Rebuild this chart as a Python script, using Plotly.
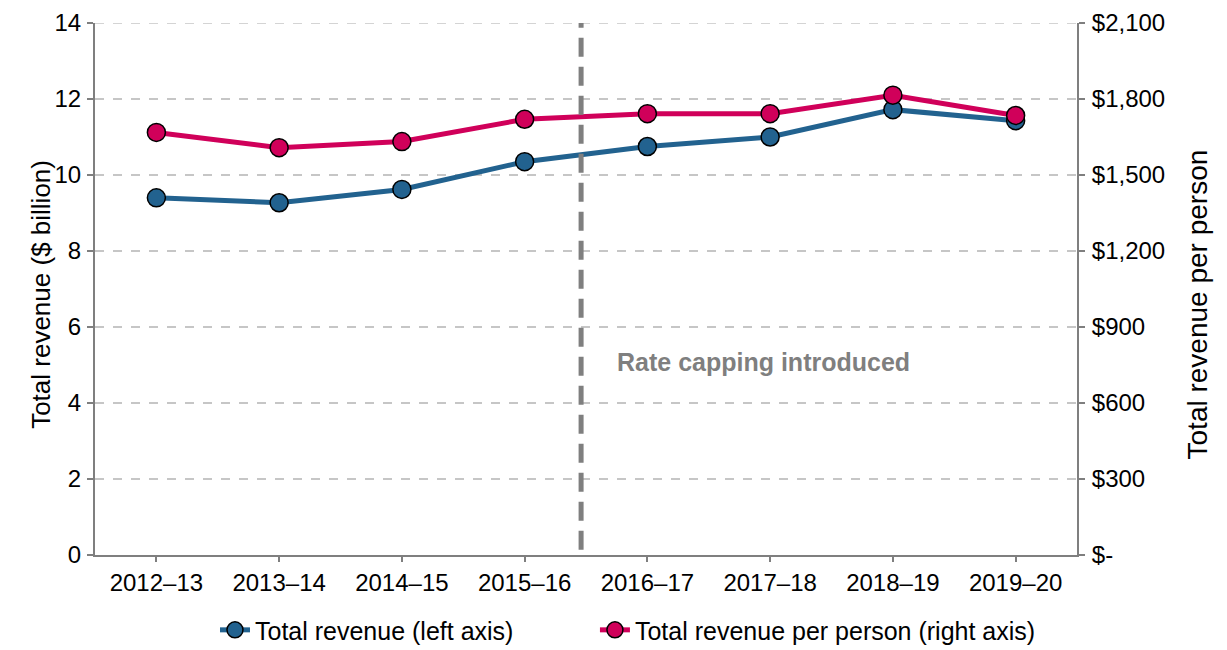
import plotly.graph_objects as go

years = ["2012–13", "2013–14", "2014–15", "2015–16", "2016–17", "2017–18", "2018–19", "2019–20"]
total_revenue = [9.40, 9.27, 9.62, 10.35, 10.75, 11.00, 11.72, 11.43]
revenue_per_person = [1668, 1608, 1632, 1720, 1742, 1742, 1815, 1735]

left_ticks = [0, 2, 4, 6, 8, 10, 12, 14]
right_ticks = [0, 300, 600, 900, 1200, 1500, 1800, 2100]
right_labels = ["$-", "$300", "$600", "$900", "$1,200", "$1,500", "$1,800", "$2,100"]

blue = "#22628f"
pink = "#d0005a"
axis_grey = "#7f7f7f"
grid_grey = "#c6c6c6"

fig = go.Figure()

# serie en eje izquierdo
fig.add_trace(go.Scatter(
    x=years, y=total_revenue,
    name="Total revenue (left axis)",
    mode="lines+markers",
    line=dict(color=blue, width=5),
    marker=dict(size=18, color=blue, line=dict(color="black", width=1.5)),
    legend="legend",
))

# serie en eje derecho
fig.add_trace(go.Scatter(
    x=years, y=revenue_per_person,
    name="Total revenue per person (right axis)",
    mode="lines+markers",
    yaxis="y2",
    line=dict(color=pink, width=5),
    marker=dict(size=18, color=pink, line=dict(color="black", width=1.5)),
    legend="legend2",
))

# linea de grilla superior (14)
fig.add_shape(
    type="line", xref="paper", yref="y",
    x0=0, x1=1, y0=14, y1=14,
    line=dict(color=grid_grey, width=1.5, dash="dash"),
    layer="below",
)

# linea de rate capping
fig.add_shape(
    type="line", xref="x", yref="paper",
    x0=3.46, x1=3.46, y0=0.01, y1=1.0,
    line=dict(color=axis_grey, width=5, dash="19px,10px"),
)
fig.add_annotation(
    x=4.95, y=5.08, xref="x", yref="y",
    text="<b>Rate capping introduced</b>",
    showarrow=False,
    font=dict(size=25, color=axis_grey),
)

# titulos de ejes
fig.add_annotation(
    x=0, y=0.489, xref="paper", yref="paper", xshift=-71,
    text="Total revenue ($ billion)", textangle=-90, showarrow=False,
    font=dict(size=26),
)
fig.add_annotation(
    x=1, y=0.470, xref="paper", yref="paper", xshift=138,
    text="Total revenue per person", textangle=-90, showarrow=False,
    font=dict(size=28),
)

legend_style = dict(orientation="h", xref="container", yref="container",
                    xanchor="left", y=0.031, yanchor="middle",
                    font=dict(size=25), bgcolor="rgba(0,0,0,0)")

fig.update_layout(
    width=1219, height=642,
    margin=dict(l=87, r=150, t=15, b=95),
    paper_bgcolor="white", plot_bgcolor="white",
    font=dict(family="Liberation Sans, Arial, sans-serif", size=24, color="black"),
    showlegend=True,
    legend=dict(x=0.1698, **legend_style),
    legend2=dict(x=0.4815, **legend_style),
    xaxis=dict(
        type="category", automargin=False,
        showline=True, linecolor=axis_grey, linewidth=2,
        ticks="outside", ticklen=5, tickcolor=axis_grey, tickwidth=2,
        showgrid=False, range=[-0.5, 7.5], ticklabelstandoff=0,
    ),
    yaxis=dict(
        range=[0, 14], tickvals=left_ticks, automargin=False,
        showline=True, linecolor=axis_grey, linewidth=2,
        ticks="outside", ticklen=6, tickcolor=axis_grey, tickwidth=2,
        showgrid=True, gridcolor=grid_grey, griddash="dash", gridwidth=1.5,
        zeroline=False, ticklabelstandoff=1,
    ),
    yaxis2=dict(
        overlaying="y", side="right", automargin=False,
        range=[0, 2100], tickvals=right_ticks, ticktext=right_labels,
        showline=True, linecolor=axis_grey, linewidth=2,
        ticks="outside", ticklen=6, tickcolor=axis_grey, tickwidth=2,
        showgrid=False, zeroline=False, ticklabelstandoff=2,
    ),
)

fig.write_html("out.html")
